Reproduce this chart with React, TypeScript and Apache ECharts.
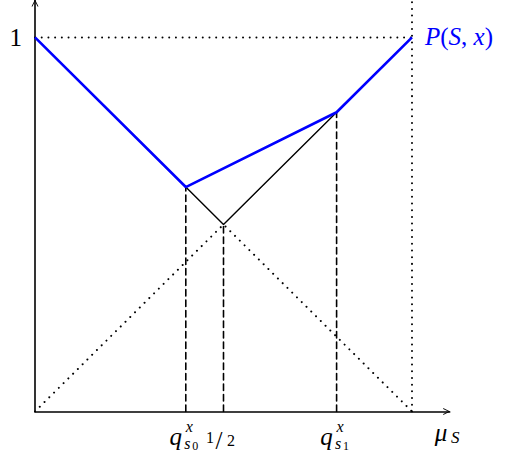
import React, { useEffect, useRef } from "react";
import * as echarts from "echarts";

// ---- data ----
const qS0 = 0.4; // q^x_{s0}
const half = 0.5; // 1/2
const qS1 = 0.8; // q^x_{s1}
const pAtQS0 = 0.6;
const pAtQS1 = 0.8;
const xMax = 1.1;
const yMax = 1.1;

const envelope = [[0, 1], [qS0, pAtQS0], [qS1, pAtQS1], [1, 1]]; // P(S,x)
const innerSolid = [[qS0, pAtQS0], [half, half], [qS1, pAtQS1]];
const dottedVee = [[0, 0], [half, half], [1, 0]];
const topDotted = [[0, 1], [1, 1]];
const rightDotted = [[1, 0], [1, yMax]];
const dashedDrops = [
  [[qS0, 0], [qS0, pAtQS0]],
  [[half, 0], [half, half]],
  [[qS1, 0], [qS1, pAtQS1]],
];
const xLabelValues = [qS0, half, qS1, xMax];
const xLabelKinds = ["qs0", "half", "qs1", "mu"];
const yTickLabels = ["1"];
const curveLabelPoint = [1, 1];
const curveLabel = "P(S, x)";

const FAMILY = "Liberation Serif";
const BLUE = "#0000ff";

function line(data: number[][], color: string, width: number, type: any, z = 2) {
  return {
    type: "line",
    data,
    symbol: "none",
    silent: true,
    z,
    lineStyle: { color, width, type, cap: type === "solid" ? "butt" : "round" },
  };
}

function txt(x: number, y: number, text: string, size: number, italic: boolean, color = "#000") {
  return {
    type: "text",
    x,
    y,
    style: {
      text,
      fill: color,
      font: `${italic ? "italic " : ""}${size}px "${FAMILY}", serif`,
      fontSize: size,
      fontFamily: FAMILY,
      fontStyle: italic ? "italic" : "normal",
      align: "center",
      verticalAlign: "middle",
    },
  };
}

export default function App() {
  const ref = useRef<HTMLDivElement>(null);
  useEffect(() => {
    if (!ref.current) return;
    const chart = echarts.init(ref.current, undefined, { renderer: "svg" });
    const arrow = "path://M0 10 L5 0 L10 10 L8.6 10 L5 2.6 L1.4 10 Z";
    const dotted: any = [0.01, 6.7];
    const dashed: any = [6.5, 4];
    const series: any[] = [
      line(dottedVee, "#000", 2, dotted),
      line(topDotted, "#000", 2, dotted),
      line(rightDotted, "#000", 2, dotted),
      ...dashedDrops.map((d) => line(d, "#000", 1.6, dashed)),
      line(innerSolid, "#000", 1.4, "solid", 3),
      line(envelope, BLUE, 2.6, "solid", 4),
      {
        type: "custom",
        silent: true,
        z: 5,
        data: xLabelValues.map((v, i) => [v, i]),
        renderItem: (params: any, api: any) => {
          const v = api.value(0);
          const kind = xLabelKinds[api.value(1)];
          const p = api.coord([v, 0]);
          const x = p[0];
          const y = p[1];
          if (kind === "qs0" || kind === "qs1") {
            return {
              type: "group",
              children: [
                txt(x - 10, y + 25, "q", 25, true),
                txt(x + 3.5, y + 15, "x", 16, true),
                txt(x + 1.5, y + 32, "s", 16, true),
                txt(x + 9.5, y + 34.5, kind === "qs0" ? "0" : "1", 12, false),
              ],
            };
          }
          if (kind === "half") {
            return {
              type: "group",
              children: [
                txt(x - 13.5, y + 26, "1", 16, false),
                txt(x - 4.5, y + 28.5, "/", 25, false),
                txt(x + 7.5, y + 29, "2", 16, false),
              ],
            };
          }
          return {
            type: "group",
            children: [
              txt(x - 8.7, y + 21, "μ", 25, true),
              txt(x + 5.5, y + 26, "S", 17, true),
            ],
          };
        },
      },
      {
        type: "custom",
        silent: true,
        z: 5,
        data: [curveLabelPoint],
        renderItem: (params: any, api: any) => {
          const p = api.coord([api.value(0), api.value(1)]);
          const parts = curveLabel.match(/[A-Za-z]|[^A-Za-z]+/g) || [];
          const text = parts
            .map((s) => (/[A-Za-z]/.test(s) ? `{i|${s}}` : `{r|${s}}`))
            .join("");
          return {
            type: "text",
            x: p[0] + 13,
            y: p[1] - 1,
            style: {
              text,
              fill: BLUE,
              align: "left",
              verticalAlign: "middle",
              rich: {
                i: { fontSize: 25, fontFamily: FAMILY, fontStyle: "italic", fill: BLUE },
                r: { fontSize: 25, fontFamily: FAMILY, fill: BLUE },
              },
            },
          };
        },
      },
    ];
    chart.setOption({
      animation: false,
      grid: { left: 35, right: 507 - 35 - 377 * xMax, top: 0, bottom: 45.5 },
      xAxis: {
        type: "value",
        min: 0,
        max: xMax,
        axisLine: {
          show: true,
          lineStyle: { color: "#000", width: 1.6 },
          symbol: ["none", arrow],
          symbolSize: [12, 7],
          symbolOffset: [0, -3],
        },
        axisTick: { show: false },
        axisLabel: { show: false },
        splitLine: { show: false },
      },
      yAxis: {
        type: "value",
        min: 0,
        max: yMax,
        interval: 1,
        axisLine: {
          show: true,
          lineStyle: { color: "#000", width: 1.6 },
          symbol: ["none", arrow],
          symbolSize: [12, 7],
          symbolOffset: [0, -3],
        },
        axisTick: { show: false },
        axisLabel: {
          margin: 13,
          color: "#000",
          fontSize: 25,
          fontFamily: FAMILY,
          showMinLabel: false,
          showMaxLabel: false,
          formatter: (v: number) => (Math.abs(v - 1) < 1e-9 ? yTickLabels[0] : ""),
        },
        splitLine: { show: false },
      },
      series,
    });
    return () => chart.dispose();
  }, []);
  return (
    <div
      ref={ref}
      style={{ position: "fixed", left: 0, top: 0, width: 507, height: 457, background: "#fff" }}
    />
  );
}
